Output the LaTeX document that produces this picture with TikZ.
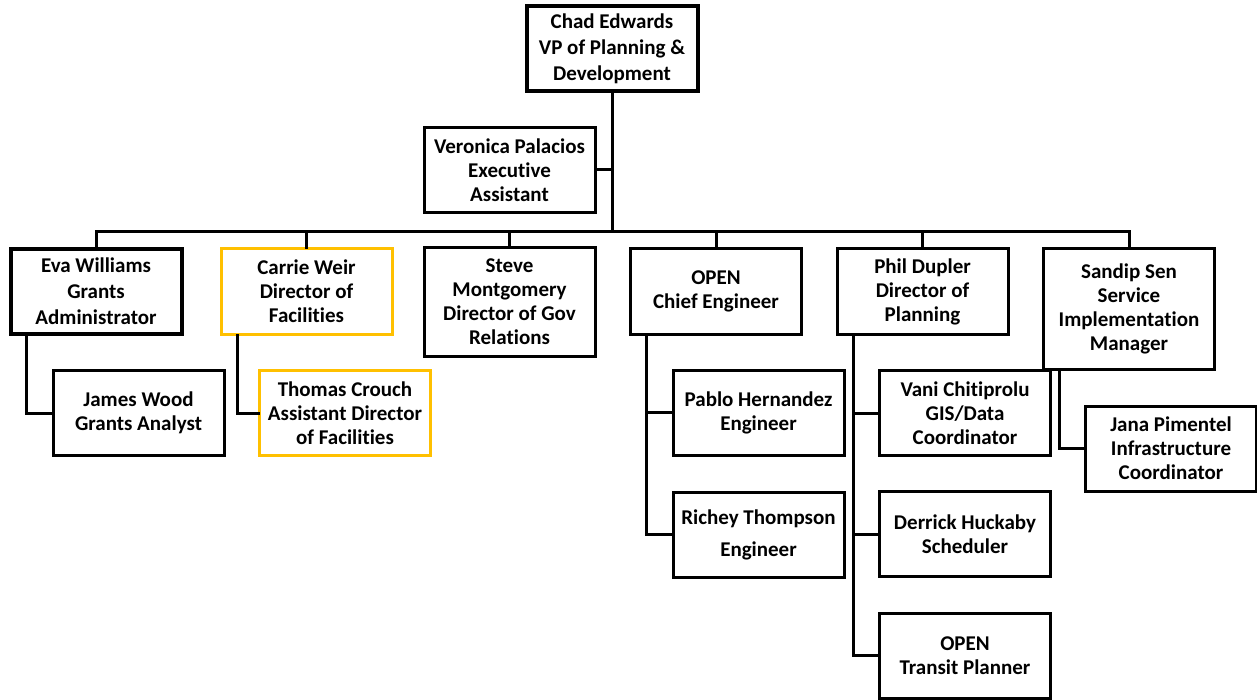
\documentclass[tikz,border=0pt]{standalone}
\usepackage{fontspec}
\setmainfont{Carlito}[Ligatures=NoCommon]
\definecolor{gold}{HTML}{FFC000}
\begin{document}
\begin{tikzpicture}[x=1pt,y=-1pt,
  every node/.style={inner sep=0pt, align=center, font=\bfseries\fontsize{21}{24}\selectfont},
  box/.style={draw=black, line width=3pt, minimum width=171pt, minimum height=85pt},
  heavybox/.style={box, line width=4pt},
  goldbox/.style={box, draw=gold},
  link/.style={line width=3pt, line cap=rect},
  wide/.style={font=\bfseries\fontsize{21}{26}\selectfont}]
\useasboundingbox (0,0) rectangle (1257,700);

% top of the chart
\node[heavybox, wide] (chad) at (612,48.5) {Chad Edwards\\VP of Planning \&\\Development};
\node[box] (veronica) at (509.5,170) {Veronica Palacios\\Executive\\Assistant};

% department heads
\node[heavybox, wide] (eva) at (96,291.5) {Eva Williams\\Grants\\Administrator};
\node[goldbox] (carrie) at (306.5,291.5) {Carrie Weir\\Director of\\Facilities};
\node[box, minimum height=108pt] (steve) at (509.5,302) {Steve\\Montgomery\\Director of Gov\\Relations};
\node[box] (chief) at (716,291.5) {OPEN\\Chief Engineer};
\node[box] (phil) at (922.5,291.5) {Phil Dupler\\Director of\\Planning};
\node[box, minimum height=120pt] (sandip) at (1129,309) {Sandip Sen\\Service\\Implementation\\Manager};

% staff
\node[box] (james) at (138.5,413) {James Wood\\Grants Analyst};
\node[goldbox] (thomas) at (345,413) {Thomas Crouch\\Assistant Director\\of Facilities};
\node[box] (pablo) at (758.5,412.5) {Pablo Hernandez\\Engineer};
\node[box, font=\bfseries\fontsize{21}{32}\selectfont] (richey) at (758.5,534.5) {Richey Thompson\\Engineer};
\node[box] (vani) at (965,413) {Vani Chitiprolu\\GIS/Data\\Coordinator};
\node[box] (derrick) at (965,534) {Derrick Huckaby\\Scheduler};
\node[box] (transit) at (965,655.5) {OPEN\\Transit Planner};
\node[box] (jana) at (1171,448.5) {Jana Pimentel\\Infrastructure\\Coordinator};

% reporting lines
\coordinate (busY) at (0,232);
\draw[link] (chad.south) -- (chad.south |- busY);
\draw[link] (veronica.east) -- (veronica.east -| chad.south);
\draw[link] (eva.north) -- (eva.north |- busY) -- (sandip.north |- busY) -- (sandip.north);
\foreach \n in {carrie,steve,chief,phil}
  \draw[link] (\n.north) -- (\n.north |- busY);

\draw[link] ([xshift=17.5pt]eva.south west) |- (james.west);
\draw[link] ([xshift=17.5pt]carrie.south west) |- (thomas.west);
\draw[link] ([xshift=17.5pt]chief.south west) |- (richey.west);
\draw[link] ([xshift=17.5pt]chief.south west |- pablo.west) -- (pablo.west);
\draw[link] ([xshift=17.5pt]phil.south west) |- (transit.west);
\draw[link] ([xshift=17.5pt]phil.south west |- vani.west) -- (vani.west);
\draw[link] ([xshift=17.5pt]phil.south west |- derrick.west) -- (derrick.west);
\draw[link] ([xshift=17.5pt]sandip.south west) |- (jana.west);
\end{tikzpicture}
\end{document}
